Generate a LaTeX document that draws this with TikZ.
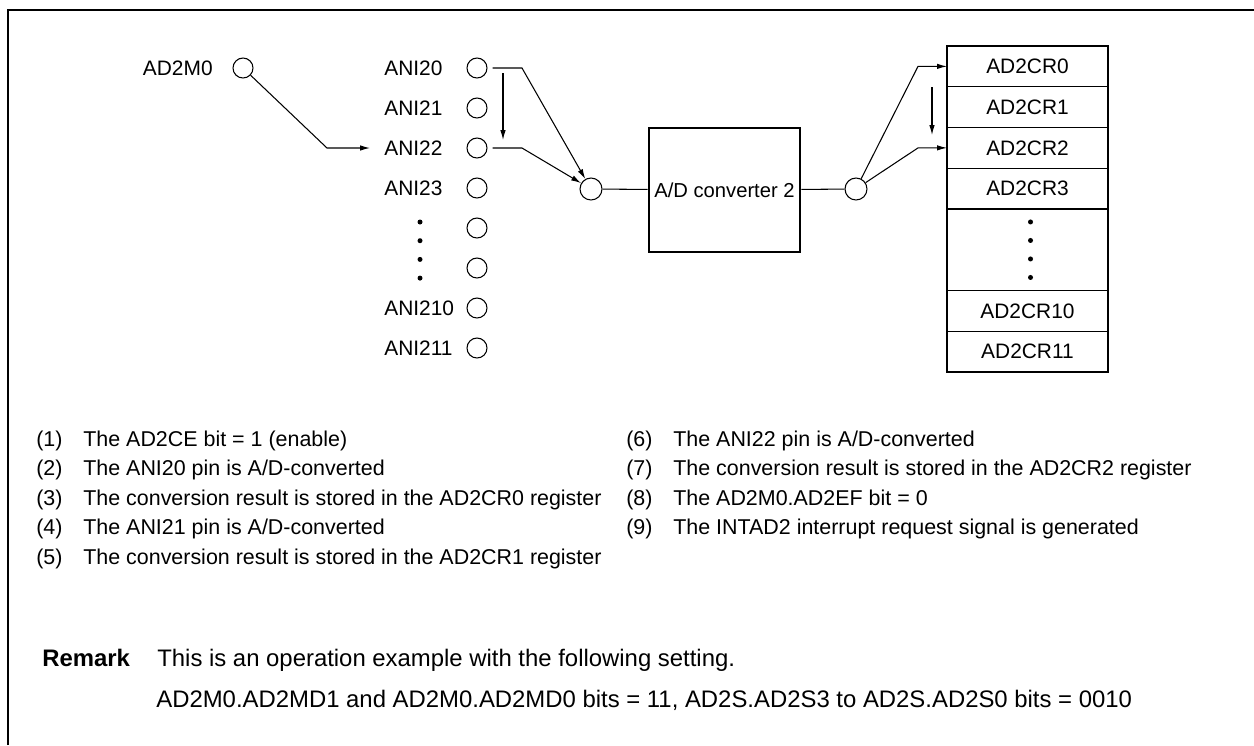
\documentclass[tikz,border=0pt]{standalone}
\usepackage{fontspec}
\setmainfont{Liberation Sans}
\usetikzlibrary{arrows.meta,positioning,calc}
\newcommand{\itemno}[1]{\makebox[0.94cm][l]{(#1)}}

\begin{document}
\begin{tikzpicture}[x=0.02cm, y=-0.02cm,
    font=\fontsize{11.9}{14}\selectfont,
    port/.style={draw, circle, line width=0.6pt, minimum size=0.4cm, inner sep=0pt},
    sel/.style={draw, circle, line width=0.6pt, minimum size=0.44cm, inner sep=0pt},
    lbl/.style={inner sep=0pt},
    note/.style={inner sep=0pt, anchor=base west, font=\fontsize{12.2}{14}\selectfont},
    remark/.style={inner sep=0pt, anchor=base west, font=\fontsize{13.6}{16}\selectfont},
    reg/.style={draw, line width=0.6pt, minimum width=3.22cm, minimum height=0.815cm, inner sep=0pt, outer sep=0pt},
    dot/.style={fill, circle, inner sep=0pt, minimum size=0.1cm},
    wire/.style={line width=0.6pt},
    arr/.style={-{Latex[length=2mm,width=1.1mm]}, line width=0.6pt}]
  \useasboundingbox (0,0) rectangle (1254,745);
  \draw[line width=1.6pt] (8,745) -- (8,10) -- (1254,10);

  % mode bit and analog inputs
  \node[lbl, anchor=east] (lmode) at (213,68) {AD2M0};
  \node[port] (mode) at (243,68) {};
  \node[lbl, anchor=west] (l20) at (384,68) {ANI20};
  \node[lbl, anchor=west] (l21) at (384,108) {ANI21};
  \node[lbl, anchor=west] (l22) at (384,148) {ANI22};
  \node[lbl, anchor=west] (l23) at (384,188) {ANI23};
  \node[lbl, anchor=west] (l210) at (384,308) {ANI210};
  \node[lbl, anchor=west] (l211) at (384,348) {ANI211};
  \node[port] (p20) at (477,68) {};
  \node[port] (p21) at (477,108) {};
  \node[port] (p22) at (477,148) {};
  \node[port] (p23) at (477,188) {};
  \node[port] (pa) at (477,228) {};
  \node[port] (pb) at (477,268) {};
  \node[port] (p210) at (477,308) {};
  \node[port] (p211) at (477,348) {};
  \foreach \k in {0,1,2,3}
    \node[dot] at (420,{222+18.7*\k}) {};

  % converter
  \node[sel] (mux) at (591,189) {};
  \node[draw, line width=1.5pt, minimum width=3.02cm, minimum height=2.48cm, inner sep=0pt, font=\fontsize{11.5}{14}\selectfont] (conv) at (724.5,190) {A/D converter 2};
  \node[sel] (demux) at (856,189) {};

  % result registers
  \node[reg, anchor=north] (r0) at (1027.5,46) {AD2CR0};
  \node[reg, below=0pt of r0] (r1) {AD2CR1};
  \node[reg, below=0pt of r1] (r2) {AD2CR2};
  \node[reg, below=0pt of r2] (r3) {AD2CR3};
  \node[reg, below=0pt of r3, minimum height=1.63cm] (rdots) {};
  \node[reg, below=0pt of rdots] (r10) {AD2CR10};
  \node[reg, below=0pt of r10] (r11) {AD2CR11};
  \draw[line width=1.5pt] (r0.north west) rectangle (r11.south east);
  \foreach \k in {-1.5,-0.5,0.5,1.5}
    \node[dot] at ($(rdots.center)+(3,18.5*\k)$) {};

  % connections
  \draw[arr] (mode) -- (327,148) -- (l22.west) [shorten >=0.28cm];
  \draw[arr, shorten <=0.1cm] (p20) -- (522,68) -- (mux);
  \draw[arr, shorten <=0.1cm] (p22) -- (522,148) -- (mux);
  \coordinate (s0) at (503,73);
  \coordinate (s2) at (503,140);
  \draw[arr] (s0) -- (s2);
  \draw[wire] (mux) -- (conv);
  \draw[wire] (conv) -- (demux);
  \draw[arr] (demux) -- (918,66.4) -- (r0.west);
  \draw[arr] (demux) -- (918,147.9) -- (r2.west);
  \coordinate (t0) at (932,87);
  \coordinate (t2) at (932,135);
  \draw[arr] (t0) -- (t2);

  % sequence
  \node[note] (i1) at (36,446) {\itemno{1}The AD2CE bit = 1 (enable)};
  \node[note] (i2) at (36,475.5) {\itemno{2}The ANI20 pin is A/D-converted};
  \node[note] (i3) at (36,505) {\itemno{3}The conversion result is stored in the AD2CR0 register};
  \node[note] (i4) at (36,534.5) {\itemno{4}The ANI21 pin is A/D-converted};
  \node[note] (i5) at (36,564) {\itemno{5}The conversion result is stored in the AD2CR1 register};
  \node[note] (i6) at (626,446) {\itemno{6}The ANI22 pin is A/D-converted};
  \node[note] (i7) at (626,475.5) {\itemno{7}The conversion result is stored in the AD2CR2 register};
  \node[note] (i8) at (626,505) {\itemno{8}The AD2M0.AD2EF bit = 0};
  \node[note] (i9) at (626,534.5) {\itemno{9}The INTAD2 interrupt request signal is generated};

  % remark
  \node[remark] (rem) at (42,666) {\makebox[2.3cm][l]{\textbf{Remark}}This is an operation example with the following setting.};
  \node[remark] (set) at (156,707) {AD2M0.AD2MD1 and AD2M0.AD2MD0 bits = 11, AD2S.AD2S3 to AD2S.AD2S0 bits = 0010};
\end{tikzpicture}
\end{document}
